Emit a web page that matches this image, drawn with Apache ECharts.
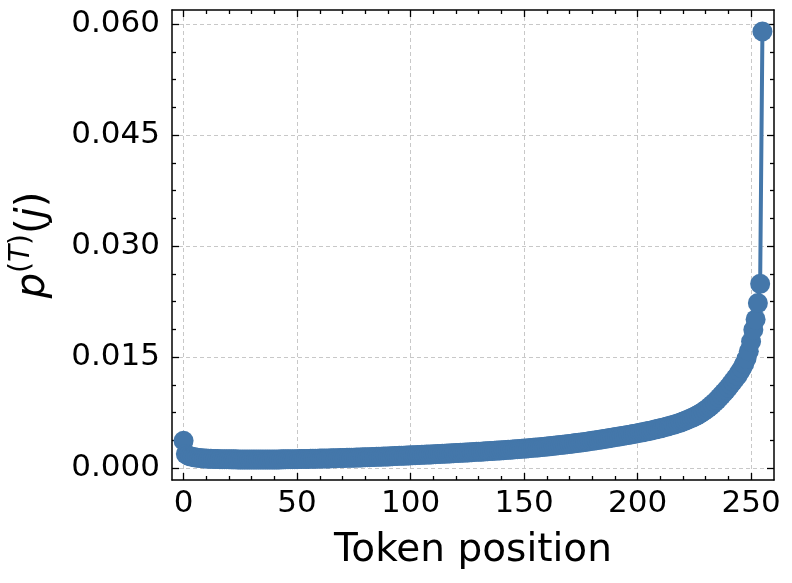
<!DOCTYPE html>
<html>
<head>
<meta charset="utf-8">
<script src="https://cdn.jsdelivr.net/npm/echarts@6/dist/echarts.min.js"></script>
<style>html,body{margin:0;padding:0;background:#fff;}#chart{width:792px;height:583px;}</style>
</head>
<body>
<div id="chart"></div>
<script>
// p^(T)(j) for token positions j = 0..255
const probValues = [
  0.0037, 0.0019, 0.0017, 0.0016, 0.00152, 0.00146, 0.00141, 0.00137, 0.00134, 0.00131,
  0.00129, 0.00127, 0.00126, 0.00125, 0.00124, 0.00123, 0.00122, 0.00121, 0.00121, 0.0012,
  0.0012, 0.00119, 0.00119, 0.00119, 0.00118, 0.00118, 0.00118, 0.00118, 0.00117, 0.00117,
  0.00117, 0.00117, 0.00117, 0.00117, 0.00117, 0.00117, 0.00117, 0.00117, 0.00117, 0.00118,
  0.00118, 0.00118, 0.00118, 0.00119, 0.00119, 0.0012, 0.0012, 0.00121, 0.00121, 0.00122,
  0.00122, 0.00123, 0.00123, 0.00124, 0.00125, 0.00125, 0.00126, 0.00127, 0.00127, 0.00128,
  0.00129, 0.0013, 0.0013, 0.00131, 0.00132, 0.00133, 0.00134, 0.00134, 0.00135, 0.00136,
  0.00137, 0.00138, 0.00139, 0.0014, 0.00141, 0.00142, 0.00143, 0.00144, 0.00145, 0.00146,
  0.00147, 0.00148, 0.00149, 0.0015, 0.00152, 0.00153, 0.00154, 0.00155, 0.00156, 0.00158,
  0.00159, 0.0016, 0.00162, 0.00163, 0.00164, 0.00166, 0.00167, 0.00168, 0.0017, 0.00171,
  0.00173, 0.00174, 0.00176, 0.00177, 0.00179, 0.0018, 0.00182, 0.00183, 0.00185, 0.00186,
  0.00188, 0.00189, 0.00191, 0.00192, 0.00194, 0.00195, 0.00197, 0.00199, 0.002, 0.00202,
  0.00204, 0.00205, 0.00207, 0.00209, 0.0021, 0.00212, 0.00214, 0.00216, 0.00218, 0.0022,
  0.00221, 0.00223, 0.00225, 0.00227, 0.00229, 0.00231, 0.00233, 0.00235, 0.00237, 0.00239,
  0.00241, 0.00243, 0.00246, 0.00248, 0.0025, 0.00252, 0.00255, 0.00257, 0.0026, 0.00262,
  0.00265, 0.00267, 0.0027, 0.00272, 0.00275, 0.00278, 0.0028, 0.00283, 0.00286, 0.00289,
  0.00292, 0.00295, 0.00298, 0.00302, 0.00305, 0.00309, 0.00312, 0.00316, 0.00319, 0.00323,
  0.00327, 0.00331, 0.00335, 0.00339, 0.00343, 0.00347, 0.00351, 0.00355, 0.0036, 0.00364,
  0.00369, 0.00373, 0.00378, 0.00383, 0.00388, 0.00393, 0.00398, 0.00403, 0.00408, 0.00414,
  0.00419, 0.00424, 0.00429, 0.00434, 0.00439, 0.00444, 0.00449, 0.00455, 0.0046, 0.00466,
  0.00472, 0.00478, 0.00484, 0.0049, 0.00497, 0.00503, 0.0051, 0.00517, 0.00524, 0.00531,
  0.00538, 0.00546, 0.00554, 0.00562, 0.0057, 0.00579, 0.00588, 0.00597, 0.00607, 0.00617,
  0.0063, 0.00642, 0.00654, 0.00667, 0.0068, 0.00695, 0.0071, 0.00727, 0.00745, 0.00765,
  0.00787, 0.0081, 0.00835, 0.00862, 0.0089, 0.0092, 0.00952, 0.00986, 0.0102, 0.01055,
  0.0109, 0.0113, 0.0117, 0.0121, 0.0125, 0.013, 0.0135, 0.0141, 0.0148, 0.0158,
  0.0171, 0.0187, 0.0201, 0.0223, 0.0249, 0.059
];

const xMajorTicks = [0, 50, 100, 150, 200, 250];
const xMinorTicks = [10, 20, 30, 40, 60, 70, 80, 90, 110, 120, 130, 140, 160, 170, 180, 190, 210, 220, 230, 240];
const yMajorTicks = [0, 0.015, 0.03, 0.045, 0.06];
const yMinorTicks = [0.00375, 0.0075, 0.01125, 0.01875, 0.0225, 0.02625, 0.03375, 0.0375, 0.04125, 0.04875, 0.0525, 0.05625];

const X_MIN = -5.1, X_MAX = 260.1;
const Y_MIN = -0.0016, Y_MAX = 0.0619;

const FONT = 'DejaVu Sans';
const seriesData = probValues.map((v, j) => [j, v]);

function xAx(position, ticks, len, showMain) {
  return {
    type: 'value', position: position, min: X_MIN, max: X_MAX,
    axisLine: { show: showMain, onZero: false, lineStyle: { color: '#000', width: 1.5 } },
    axisTick: { show: true, inside: true, length: len, customValues: ticks, lineStyle: { color: '#000', width: 1.3 } },
    axisLabel: { show: false },
    splitLine: { show: false }
  };
}
function yAx(position, ticks, len, showMain) {
  return {
    type: 'value', position: position, min: Y_MIN, max: Y_MAX,
    axisLine: { show: showMain, onZero: false, lineStyle: { color: '#000', width: 1.5 } },
    axisTick: { show: true, inside: true, length: len, customValues: ticks, lineStyle: { color: '#000', width: 1.3 } },
    axisLabel: { show: false },
    splitLine: { show: false }
  };
}

const xMain = {
  type: 'value', position: 'bottom', min: X_MIN, max: X_MAX,
  name: 'Token position', nameLocation: 'middle', nameGap: 51,
  nameTextStyle: { fontFamily: FONT, fontSize: 39, color: '#000' },
  axisLine: { show: true, onZero: false, lineStyle: { color: '#000', width: 1.5 } },
  axisTick: { show: true, inside: true, length: 7, customValues: xMajorTicks, lineStyle: { color: '#000', width: 1.3 } },
  axisLabel: { show: true, customValues: xMajorTicks, margin: 8, fontFamily: FONT, fontSize: 31, color: '#000' },
  splitLine: { show: true, lineStyle: { color: '#c8c8c8', width: 1, type: [4, 3] } }
};
const yMain = {
  type: 'value', position: 'left', min: Y_MIN, max: Y_MAX,
  name: '{it|p}{sup|(}{supit|T}{sup|)}{n|(}{it|j}{n|)}',
  nameLocation: 'middle', nameGap: 112, nameRotate: 90,
  nameTextStyle: {
    fontFamily: FONT, fontSize: 40, color: '#000',
    rich: {
      it: { fontFamily: FONT, fontSize: 40, fontStyle: 'italic', color: '#000', lineHeight: 52 },
      n: { fontFamily: FONT, fontSize: 40, color: '#000', lineHeight: 52 },
      sup: { fontFamily: FONT, fontSize: 28, color: '#000', verticalAlign: 'top', lineHeight: 52 },
      supit: { fontFamily: FONT, fontSize: 28, fontStyle: 'italic', color: '#000', verticalAlign: 'top', lineHeight: 52 }
    }
  },
  axisLine: { show: true, onZero: false, lineStyle: { color: '#000', width: 1.5 } },
  axisTick: { show: true, inside: true, length: 7, customValues: yMajorTicks, lineStyle: { color: '#000', width: 1.3 } },
  axisLabel: { show: true, customValues: yMajorTicks, margin: 12, fontFamily: FONT, fontSize: 31, color: '#000',
    formatter: v => v.toFixed(3) },
  splitLine: { show: true, lineStyle: { color: '#c8c8c8', width: 1, type: [4, 3] } }
};

const chart = echarts.init(document.getElementById('chart'), null, { renderer: 'canvas' });
chart.setOption({
  animation: false,
  backgroundColor: '#ffffff',
  grid: { left: 169, right: 18, top: 10, bottom: 103, containLabel: false },
  xAxis: [xMain, xAx('bottom', xMinorTicks, 4, false), xAx('top', xMajorTicks, 7, true), xAx('top', xMinorTicks, 4, false)],
  yAxis: [yMain, yAx('left', yMinorTicks, 4, false), yAx('right', yMajorTicks, 7, true), yAx('right', yMinorTicks, 4, false)],
  series: [{
    type: 'line',
    xAxisIndex: 0, yAxisIndex: 0,
    data: seriesData,
    symbol: 'circle', symbolSize: 20,
    showAllSymbol: true,
    clip: false,
    lineStyle: { color: '#4477aa', width: 4 },
    itemStyle: { color: '#4477aa' },
    z: 3
  }]
});
</script>
</body>
</html>
